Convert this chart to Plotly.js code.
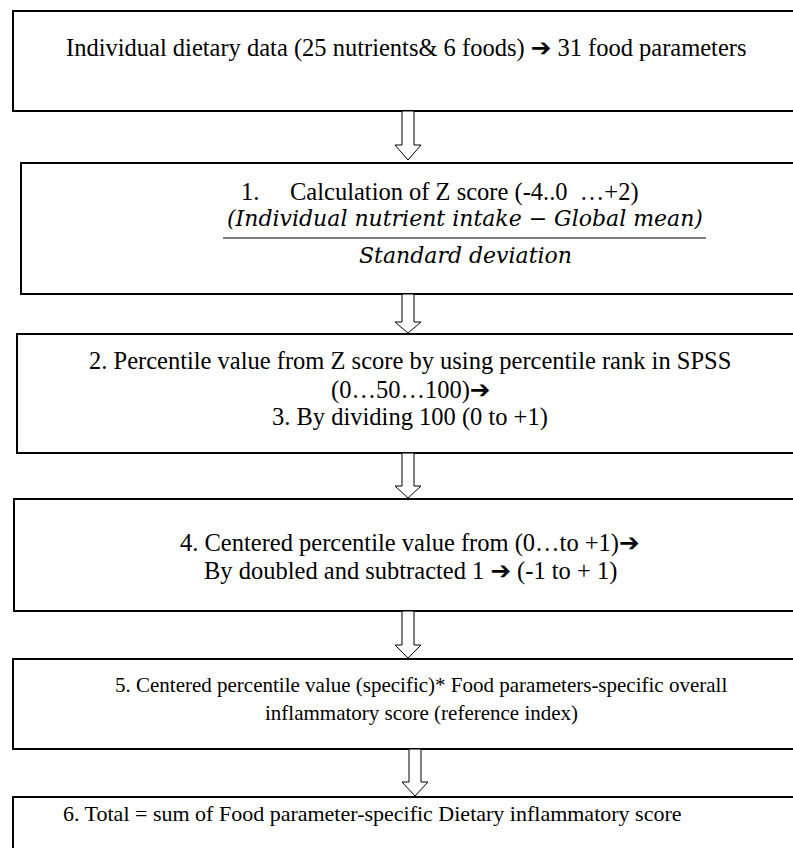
<!DOCTYPE html>
<html>
<head>
<meta charset="utf-8">
<script src="https://cdn.plot.ly/plotly-3.0.1.min.js"></script>
<style>html,body{margin:0;padding:0;background:#fff;}#chart{width:793px;height:848px;}</style>
</head>
<body>
<div id="chart"></div>
<script>
// Flowchart content
const arrowGlyph = "<span style=\"font-family:DejaVu Sans\">\u2794</span>";
const step0Lines = ["Individual dietary data (25 nutrients& 6 foods) " + arrowGlyph + " 31 food parameters"];
const step1Lines = ["1.\u00a0\u00a0\u00a0\u00a0 Calculation of Z score (-4..0\u00a0\u00a0\u2026+2)"];
const step1Numerator = "(Individual nutrient intake \u2212 Global mean)";
const step1Denominator = "Standard deviation";
const step2Lines = ["2. Percentile value from Z score by using percentile rank in SPSS", "(0\u202650\u2026100)" + arrowGlyph, "3. By dividing 100 (0 to +1)"];
const step4Lines = ["4. Centered percentile value from (0\u2026to +1)" + arrowGlyph, "By doubled and subtracted 1 " + arrowGlyph + " (-1 to + 1)"];
const step5Lines = ["5. Centered percentile value (specific)* Food parameters-specific overall", "inflammatory score (reference index)"];
const step6Lines = ["6. Total = sum of Food parameter-specific Dietary inflammatory score"];

// Layout geometry (pixels)
const boxes = [
  {x0: 13, y0: 11, y1: 111},
  {x0: 21, y0: 163, y1: 294},
  {x0: 17, y0: 334, y1: 453},
  {x0: 14, y0: 499, y1: 611},
  {x0: 13, y0: 659, y1: 749},
  {x0: 13, y0: 797, y1: 860}
];
const arrows = [
  {cx: 408, y0: 111, yh: 145, y1: 160},
  {cx: 408, y0: 294, yh: 322, y1: 333},
  {cx: 408, y0: 453, yh: 486, y1: 498},
  {cx: 408, y0: 611, yh: 645, y1: 658},
  {cx: 415, y0: 749, yh: 782, y1: 796}
];

const serif = "Liberation Serif";
const mathFont = "DejaVu Serif";
const shapes = [];
boxes.forEach(b => shapes.push({type: 'rect', xref: 'x', yref: 'y', x0: b.x0, x1: 805, y0: b.y0, y1: b.y1,
  line: {color: '#000', width: 2}, fillcolor: 'rgba(0,0,0,0)'}));
arrows.forEach(a => {
  const sw = 6, hw = 13;
  const p = `M ${a.cx - sw} ${a.y0} L ${a.cx + sw} ${a.y0} L ${a.cx + sw} ${a.yh} L ${a.cx + hw} ${a.yh} L ${a.cx} ${a.y1} L ${a.cx - hw} ${a.yh} L ${a.cx - sw} ${a.yh} Z`;
  shapes.push({type: 'path', xref: 'x', yref: 'y', path: p, line: {color: '#000', width: 1}, fillcolor: '#fff'});
});
// fraction bar
shapes.push({type: 'line', xref: 'x', yref: 'y', x0: 223, x1: 706, y0: 238, y1: 238, line: {color: '#000', width: 1.2}});

const annotations = [];
function addLine(text, x, y, size, opts, family) {
  annotations.push(Object.assign({text: text, x: x, y: y, xref: 'x', yref: 'y', showarrow: false,
    xanchor: 'center', yanchor: 'middle', font: {family: family || serif, size: size, color: '#000'}}, opts || {}));
}
addLine(step0Lines[0], 406, 47, 24.5);
addLine(step1Lines[0], 440, 192, 24.5);
addLine('<i>' + step1Numerator + '</i>', 465, 218, 22, null, mathFont);
addLine('<i>' + step1Denominator + '</i>', 465, 255, 22, null, mathFont);
const s2y = [360, 389, 417];
step2Lines.forEach((t, i) => addLine(t, 410, s2y[i], 24.5));
const s4y = [542, 570];
step4Lines.forEach((t, i) => addLine(t, 410, s4y[i], 24.5));
const s5y = [685, 713];
step5Lines.forEach((t, i) => addLine(t, 421, s5y[i], 21));
addLine(step6Lines[0], 61, 813, 22, {xanchor: 'left'});

const layout = {
  width: 793, height: 848,
  margin: {l: 0, r: 0, t: 0, b: 0},
  paper_bgcolor: '#fff', plot_bgcolor: '#fff',
  xaxis: {range: [0, 793], visible: false, fixedrange: true},
  yaxis: {range: [848, 0], visible: false, fixedrange: true},
  showlegend: false,
  shapes: shapes,
  annotations: annotations
};
Plotly.newPlot('chart', [], layout, {staticPlot: true, displayModeBar: false});
</script>
</body>
</html>
